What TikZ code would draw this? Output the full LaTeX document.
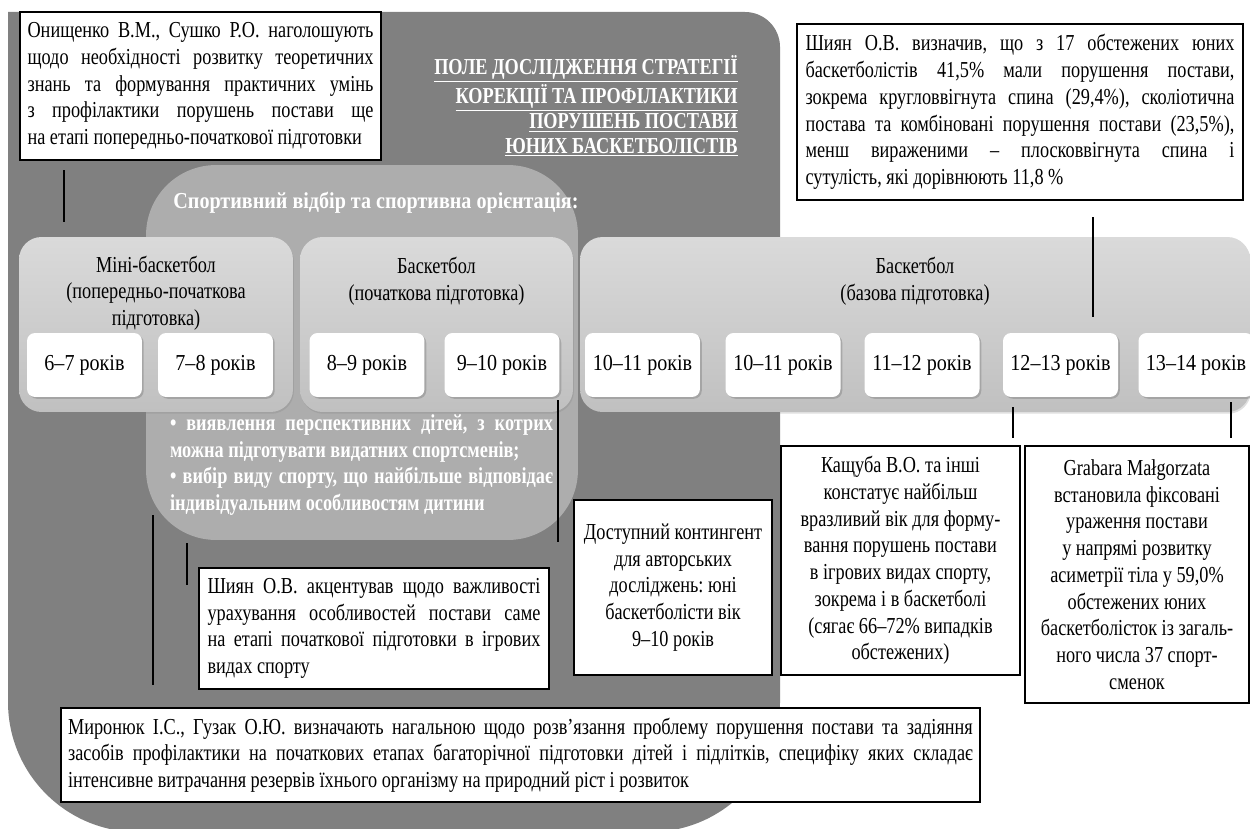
\documentclass[tikz,border=0pt]{standalone}
\usepackage{xcolor}
\usepackage{fontspec}
\setmainfont{Liberation Serif}[FakeStretch=0.8]
\newfontfamily\widerserif{Liberation Serif}[FakeStretch=0.88]
\usetikzlibrary{shadows}
\frenchspacing

\definecolor{fieldgray}{HTML}{808080}
\definecolor{sportgray}{HTML}{ADADAD}
\definecolor{stagetop}{HTML}{DADADA}
\definecolor{stagebot}{HTML}{C0C0C0}

\tikzset{
	notebox/.style={draw=black, line width=0.8pt, fill=white, inner ysep=0pt, align=justify},
	centerbox/.style={draw=black, line width=0.8pt, fill=white, inner sep=0pt, align=center},
	stagebox/.style={rounded corners=0.45cm, top color=stagetop, bottom color=stagebot, minimum height=3.5cm,
		drop shadow={opacity=0.25, shadow xshift=0.5pt, shadow yshift=-1pt}},
	agebox/.style={rounded corners=0.16cm, fill=white, minimum width=2.3cm, minimum height=1.28cm, inner sep=0pt,
		font=\widerserif\fontsize{13}{15.2}\selectfont,
		drop shadow={opacity=0.45, shadow xshift=1pt, shadow yshift=-1pt}},
	whitetext/.style={text=white, font=\fontsize{13}{15.2}\selectfont\bfseries},
	titletext/.style={text=white, font=\fontsize{13}{14.2}\selectfont\bfseries, align=right, inner sep=0pt},
	link/.style={line width=0.6pt}
}

\begin{document}
\begin{tikzpicture}[x=0.02cm, y=-0.02cm, font=\fontsize{13}{15.2}\selectfont]
\path[use as bounding box, fill=white] (0,0) rectangle (1250,828);
%	research field
\fill[fieldgray] (8,400) -- (8,12) [rounded corners=0.7cm] -- (780,12)
	[rounded corners=2.6cm] -- (780,832) -- (8,832) -- cycle;
\node[titletext, anchor=east] (fieldtitle) at (738,106)
	{\underline{ПОЛЕ ДОСЛІДЖЕННЯ СТРАТЕГІЇ}\\
	 \underline{КОРЕКЦІЇ ТА ПРОФІЛАКТИКИ}\\
	 \underline{ПОРУШЕНЬ ПОСТАВИ}\\
	 \underline{ЮНИХ БАСКЕТБОЛІСТІВ}};
%	sport selection
\node[rounded corners=1.4cm, fill=sportgray, minimum width=8.64cm, minimum height=7.5cm] (sport) at (362,352.5) {};
\node[whitetext, font=\widerserif\fontsize{13}{15.2}\selectfont\bfseries] (sporttitle) at (376,203)
	{Спортивний відбір та спортивна орієнтація:};
%	stages
\node[stagebox, minimum width=5.48cm] (mini) at (156,324.5) {};
\node[stagebox, minimum width=5.46cm] (poch) at (436.5,324.5) {};
\node[stagebox, minimum width=13.4cm] (base) at (915,324.5) {};
\node[align=center] (minilabel) at (156,293) {Міні-баскетбол\\(попередньо-початкова\\підготовка)};
\node[align=center] (pochlabel) at (436.5,281) {Баскетбол\\(початкова підготовка)};
\node[align=center] (baselabel) at (915,281) {Баскетбол\\(базова підготовка)};
\node[whitetext, text width=7.66cm, align=justify, inner sep=0pt] (sportlist) at (361.5,465)
	{• виявлення перспективних дітей, з котрих\linebreak
	 можна підготувати видатних спортсменів;\\
	 • вибір виду спорту, що найбільше відповідає\linebreak
	 індивідуальним особливостям дитини};
%	ages
\node[agebox] (a67) at (84.5,365) {6–7 років};
\node[agebox] (a78) at (215.5,365) {7–8 років};
\node[agebox] (a89) at (367,365) {8–9 років};
\node[agebox] (a910) at (502,365) {9–10 років};
\node[agebox] (a1011) at (642.5,365) {10–11 років};
\node[agebox] (a1011b) at (783,365) {10–11 років};
\node[agebox] (a1112) at (922,365) {11–12 років};
\node[agebox] (a1213) at (1060.5,365) {12–13 років};
\node[agebox] (a1314) at (1196,365) {13–14 років};
%	links
\coordinate (onyshtop) at (64,170);     \coordinate (onyshbot) at (64,222);
\coordinate (shiyantop) at (1093,217);  \coordinate (shiyanbot) at (1093,317);
\coordinate (kashtop) at (1013,407);    \coordinate (kashbot) at (1013,438);
\coordinate (grabtop) at (1231,402);    \coordinate (grabbot) at (1231,438);
\coordinate (dostuptop) at (558,400);   \coordinate (dostupbot) at (558,542);
\coordinate (mirontop) at (153,515);    \coordinate (mironbot) at (153,685);
\coordinate (akcenttop) at (187,543);   \coordinate (akcentbot) at (187,585);
\draw[link]
	(onyshtop) -- (onyshbot)
	(shiyantop) -- (shiyanbot)
	(kashtop) -- (kashbot)
	(grabtop) -- (grabbot)
	(dostuptop) -- (dostupbot)
	(mirontop) -- (mironbot)
	(akcenttop) -- (akcentbot);
%	notes
\node[notebox, text width=6.92cm, inner xsep=0.15cm, minimum height=2.96cm] (onysh) at (200.5,86)
	{Онищенко В.М., Сушко Р.О. наголошують\linebreak
	 щодо необхідності розвитку теоретичних\linebreak
	 знань та формування практичних умінь\linebreak
	 з профілактики порушень постави ще\linebreak
	 на етапі попередньо-початкової підготовки};
\node[notebox, text width=8.58cm, inner xsep=0.17cm, minimum height=3.52cm] (shiyan) at (1020,112)
	{Шиян О.В. визначив, що з 17 обстежених юних\linebreak
	 баскетболістів 41,5\% мали порушення постави,\linebreak
	 зокрема кругловвігнута спина (29,4\%), сколіотична\linebreak
	 постава та комбіновані порушення постави (23,5\%),\linebreak
	 менш вираженими – плосковвігнута спина і\linebreak
	 сутулість, які дорівнюють 11,8 \%};
\node[notebox, text width=6.66cm, inner xsep=0.17cm, minimum height=2.42cm] (akcent) at (374,628.5)
	{Шиян О.В. акцентував щодо важливості\linebreak
	 урахування особливостей постави саме\linebreak
	 на етапі початкової підготовки в ігрових\linebreak
	 видах спорту};
\node[centerbox, minimum width=3.96cm, minimum height=3.5cm] (dostup) at (673,587.5)
	{Доступний контингент\\для авторських\\досліджень: юні\\баскетболісти вік\\9–10 років};
\node[centerbox, minimum width=4.78cm, minimum height=4.58cm] (kash) at (900.5,560.5)
	{Кащуба В.О. та інші\\констатує найбільш\\вразливий вік для форму-\\вання порушень постави\\в ігрових видах спорту,\\зокрема і в баскетболі\\(сягає 66–72\% випадків\\обстежених)};
\node[centerbox, minimum width=4.48cm, minimum height=5.14cm] (grab) at (1137,574.5)
	{Grabara Małgorzata\\встановила фіксовані\\ураження постави\\у напрямі розвитку\\асиметрії тіла у 59,0\%\\обстежених юних\\баскетболісток із загаль-\\ного числа 37 спорт-\\сменок};
\node[notebox, text width=18.1cm, inner xsep=0.14cm, minimum height=1.88cm] (miron) at (520.5,755)
	{Миронюк І.С., Гузак О.Ю. визначають нагальною щодо розв’язання проблему порушення постави та задіяння\linebreak
	 засобів профілактики на початкових етапах багаторічної підготовки дітей і підлітків, специфіку яких складає\linebreak
	 інтенсивне витрачання резервів їхнього організму на природний ріст і розвиток};
\end{tikzpicture}
\end{document}
